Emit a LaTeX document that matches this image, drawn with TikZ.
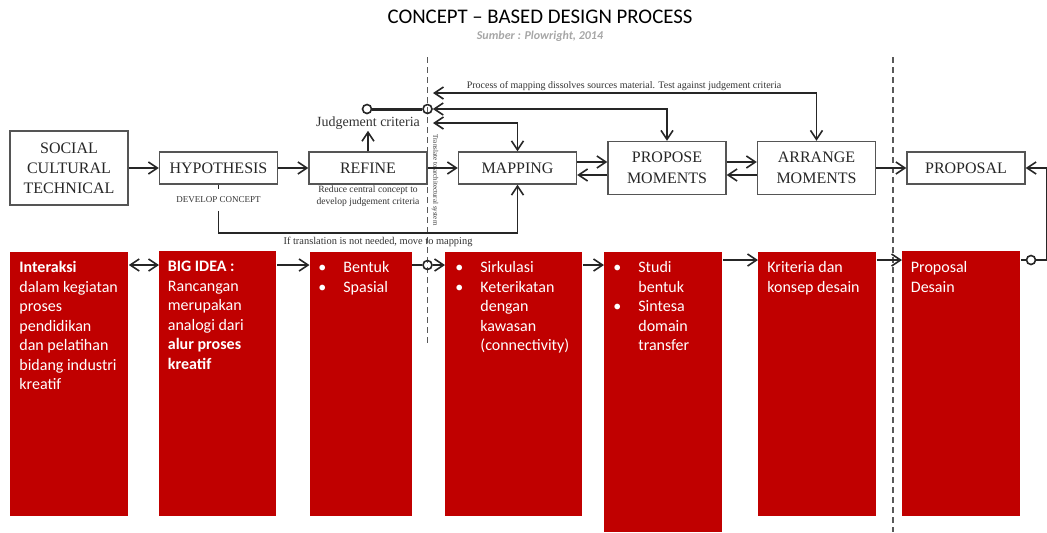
\documentclass[tikz,border=0pt]{standalone}
\usepackage{fontspec}
\setmainfont{Liberation Serif}
\newfontfamily\slidefont{Carlito}
\usetikzlibrary{positioning,arrows.meta}

\definecolor{ideared}{RGB}{192,0,0}
\definecolor{framegray}{RGB}{85,85,85}

% bullet line and its follow-up line inside the red boxes
\newcommand\bul[1]{\makebox[12.5pt][l]{\textbullet}#1}
\newcommand\cont[1]{\hspace*{12.5pt}#1}

\begin{document}
\begin{tikzpicture}[x=0.5pt,y=-0.5pt,node distance=74.75pt,on grid,
    >={Straight Barb[length=4.5pt,width=6pt]},
    stage/.style={draw=framegray,line width=0.7pt,minimum width=59pt,
      minimum height=16pt,align=center,inner sep=1pt,text=black!85,
      font=\fontsize{8}{10}\selectfont},
    idea/.style={fill=ideared,anchor=north west,minimum width=59pt,
      minimum height=132pt,inner sep=0pt},
    ideatext/.style={anchor=north west,align=left,inner sep=0pt,text=white,
      font=\slidefont\fontsize{8}{9.75}\selectfont},
    flow/.style={->,line width=0.8pt,black!85},
    note/.style={inner sep=0.5pt,text=black!80},
    knob/.style={circle,draw=black!85,line width=0.8pt,
      minimum size=4.5pt,inner sep=0pt},
    cut/.style={dash pattern=on 3pt off 2pt,line width=0.6pt,black!65}]
\useasboundingbox (0,0) rectangle (1047,532);

% heading
\node[font=\slidefont\fontsize{10.4}{12}\selectfont] (title) at (540,17)
  {CONCEPT – BASED DESIGN PROCESS};
\node[font=\slidefont\bfseries\itshape\fontsize{6}{7}\selectfont,text=black!35]
  (source) at (540,36) {Sumber : Plowright, 2014};

% phase borders
\draw[cut] (427.5,57) -- (427.5,345);
\draw[cut] (893,57) -- (893,532);
\node[note,rotate=-90,font=\fontsize{3.5}{4}\selectfont] (translate) at (435,180)
  {Translate to architectural system};

% process row
\node[stage,minimum height=37pt] (social) at (69,168) {SOCIAL\\CULTURAL\\TECHNICAL};
\node[stage,right=of social] (hypothesis) {HYPOTHESIS};
\node[stage,right=of hypothesis] (refine) {REFINE};
\node[stage,right=of refine] (mapping) {MAPPING};
\node[stage,right=of mapping,minimum height=26.5pt,
  font=\fontsize{8}{10.5}\selectfont] (propose) {PROPOSE\\MOMENTS};
\node[stage,right=of propose,minimum height=26.5pt,
  font=\fontsize{8}{10.5}\selectfont] (arrange) {ARRANGE\\MOMENTS};
\node[stage,right=of arrange] (proposal) {PROPOSAL};

\node[note,font=\fontsize{7}{8}\selectfont,above=22.5pt of refine] (judge)
  {Judgement criteria};
\node[note,font=\fontsize{4.8}{6.2}\selectfont,align=center] (reduce) at (368,196)
  {Reduce central concept to\\develop judgement criteria};
\node[note,fill=white,minimum width=59pt,minimum height=10.5pt,
  font=\fontsize{4.5}{5}\selectfont] (develop) at (218.5,200) {DEVELOP CONCEPT};
\node[note,font=\fontsize{5.2}{6}\selectfont] (skipnote) at (378,242)
  {If translation is not needed, move to mapping};
\node[note,font=\fontsize{5}{6}\selectfont] (dissolve) at (624,86)
  {Process of mapping dissolves sources material. Test against judgement criteria};

\node[knob] (knobL) at (367,109) {};
\node[knob] (knobR) at (427.5,109) {};
\coordinate (recall1) at (433,123);
\coordinate (recall3) at (433,93);
\coordinate (skip) at (218.5,233);

\draw[flow] (social) -- (hypothesis);
\draw[flow] (hypothesis) -- (refine);
\draw[flow] (refine) -- (mapping);
\draw[flow] (refine) -- (judge);
\draw[line width=1.5pt,black!85] (knobL) -- (knobR);
\draw[flow] ([yshift=3pt]mapping.east) -- ([yshift=3pt]propose.west);
\draw[flow] ([yshift=-3.5pt]propose.west) -- ([yshift=-3.5pt]mapping.east);
\draw[flow] ([yshift=3pt]propose.east) -- ([yshift=3pt]arrange.west);
\draw[flow] ([yshift=-3.5pt]arrange.west) -- ([yshift=-3.5pt]propose.east);
\draw[flow] (arrange) -- (proposal);

% loops back to the judgement criteria
\draw[flow,<->] (recall1) -| (mapping);
\draw[flow,<->] (knobR) -| (propose);
\draw[flow,<->] (recall3) -| (arrange);
\draw[line width=0.8pt,black!85] (hypothesis) -- (develop);
\draw[flow] (develop) -- (skip) -| (mapping);

% red idea boxes
\node[idea] (idea1) at (10,252) {};
\node[idea,minimum width=58.5pt,minimum height=132.5pt] (idea2) at (159,251) {};
\node[idea,minimum width=51pt] (idea3) at (309.5,252) {};
\node[idea,minimum width=68.5pt] (idea4) at (445,252) {};
\node[idea,minimum width=59pt,minimum height=140pt] (idea5) at (604,252) {};
\node[idea] (idea6) at (758,252) {};
\node[idea,minimum height=132.5pt] (idea7) at (902,251) {};

\node[ideatext] (text1) at (19,261) {\textbf{Interaksi}\\dalam kegiatan\\proses\\
  pendidikan\\dan pelatihan\\bidang industri\\kreatif};
\node[ideatext] (text2) at (167.5,261) {\textbf{BIG IDEA :}\\Rancangan\\merupakan\\
  analogi dari\\\textbf{alur proses}\\\textbf{kreatif}};
\node[ideatext] (text3) at (318,261) {\bul{Bentuk}\\\bul{Spasial}};
\node[ideatext] (text4) at (455,261) {\bul{Sirkulasi}\\\bul{Keterikatan}\\
  \cont{dengan}\\\cont{kawasan}\\\cont{(connectivity)}};
\node[ideatext] (text5) at (613,261) {\bul{Studi}\\\cont{bentuk}\\\bul{Sintesa}\\
  \cont{domain}\\\cont{transfer}};
\node[ideatext] (text6) at (767,261) {Kriteria dan\\konsep desain};
\node[ideatext] (text7) at (910.5,261) {Proposal\\Desain};

\coordinate (row) at (0,265);
\coordinate (rowB) at (0,260);
\node[knob] (gate) at (427.5,265) {};
\node[knob] (gate2) at (1031,260) {};
\coordinate (rim) at (1046.5,260);

\draw[flow,<->] (idea1.east |- row) -- (idea2.west |- row);
\draw[flow] (idea2.east |- row) -- (idea3.west |- row);
\draw[line width=0.8pt,black!85] (idea3.east |- row) -- (gate);
\draw[flow] (gate) -- (idea4.west |- row);
\draw[flow] (idea4.east |- row) -- (idea5.west |- row);
\draw[flow] (idea5.east |- rowB) -- (idea6.west |- rowB);
\draw[flow] (idea6.east |- rowB) -- (idea7.west |- rowB);
\draw[line width=0.8pt,black!85] (idea7.east |- rowB) -- (gate2);
\draw[flow] (gate2) -- (rim) |- (proposal);
\end{tikzpicture}
\end{document}
